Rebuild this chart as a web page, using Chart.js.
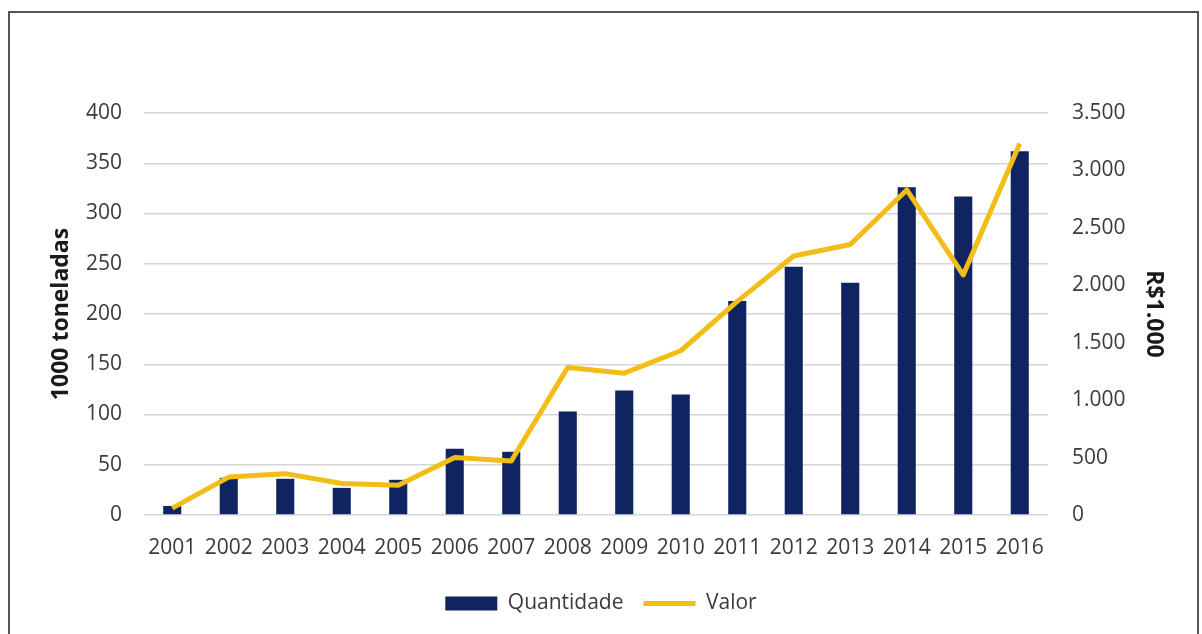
<!DOCTYPE html>
<html>
<head>
<meta charset="utf-8">
<script src="https://cdn.jsdelivr.net/npm/chart.js@4/dist/chart.umd.min.js"></script>
<style>
  html, body { margin: 0; padding: 0; background: #ffffff; width: 1202px; height: 634px; overflow: hidden; }
  #frame { position: absolute; left: 8px; top: 11px; width: 1191px; height: 640px; border: 2px solid #555555; box-sizing: border-box; }
  #wrap { position: absolute; left: 0; top: 0; width: 1202px; height: 634px; }
</style>
</head>
<body>
<div id="frame"></div>
<div id="wrap"><canvas id="c" width="1202" height="634"></canvas></div>
<script>
const categories = ['2001','2002','2003','2004','2005','2006','2007','2008','2009','2010','2011','2012','2013','2014','2015','2016'];
const quantidade = [9, 37, 36, 27, 35, 66, 63, 103, 124, 120, 213, 247, 231, 326, 317, 362];
const valor = [60, 330, 360, 275, 260, 500, 470, 1285, 1235, 1430, 1860, 2255, 2355, 2830, 2090, 3235];
const leftTitle = '1000 toneladas';
const rightTitle = 'R$1.000';
const seriesNames = ['Quantidade', 'Valor'];

const NAVY = '#0f2461';
const GOLD = '#f3bd17';
const TEXT = '#3a3a3a';
const FONT = "'Open Sans', 'Liberation Sans', sans-serif";

function fmt(v) { return String(v).replace(/\B(?=(\d{3})+(?!\d))/g, '.'); }

new Chart(document.getElementById('c'), {
  data: {
    labels: categories,
    datasets: [
      { type: 'line', label: seriesNames[1], data: valor, yAxisID: 'y1', borderColor: GOLD, backgroundColor: GOLD,
        borderWidth: 5, pointRadius: 0, tension: 0, order: 0, pointStyle: 'line', borderJoinStyle: 'round' },
      { type: 'bar', label: seriesNames[0], data: quantidade, yAxisID: 'y', backgroundColor: NAVY,
        borderWidth: 0, barPercentage: 0.32, categoryPercentage: 1, order: 1 }
    ]
  },
  options: {
    responsive: false,
    animation: false,
    devicePixelRatio: 1,
    layout: { padding: { left: 0, right: 0, top: 113, bottom: 10 } },
    plugins: {
      tooltip: { enabled: false },
      legend: {
        position: 'bottom',
        labels: {
          font: { family: FONT, size: 21 },
          color: TEXT,
          usePointStyle: true,
          pointStyleWidth: 52,
          boxHeight: 14,
          padding: 20,
          generateLabels: (chart) => {
            const ds = chart.data.datasets;
            return [
              { text: ds[1].label, fillStyle: NAVY, strokeStyle: NAVY, lineWidth: 0, pointStyle: 'rect', datasetIndex: 1, fontColor: TEXT },
              { text: ds[0].label, fillStyle: GOLD, strokeStyle: GOLD, lineWidth: 5, pointStyle: 'line', datasetIndex: 0, fontColor: TEXT }
            ];
          }
        }
      }
    },
    scales: {
      x: {
        grid: { display: false, drawTicks: false },
        border: { display: false },
        ticks: { font: { family: FONT, size: 21 }, color: TEXT, padding: 20, maxRotation: 0, autoSkip: false },
        afterFit: (s) => { s.height = 58; }
      },
      y: {
        position: 'left',
        min: 0, max: 400,
        ticks: { stepSize: 50, font: { family: FONT, size: 21 }, color: TEXT, padding: 22 },
        grid: { color: '#d6d6d6', lineWidth: 1.5, drawTicks: false },
        border: { display: false },
        title: { display: true, text: leftTitle, font: { family: FONT, size: 23, weight: 'bold' }, color: '#1a1a1a', padding: { top: 48, bottom: 0 } },
        afterFit: (s) => { s.width = 144; }
      },
      y1: {
        position: 'right',
        min: 0, max: 3500,
        ticks: { stepSize: 500, font: { family: FONT, size: 21 }, color: TEXT, padding: 24, callback: (v) => fmt(v) },
        grid: { display: false, drawTicks: false },
        border: { display: false },
        title: { display: true, text: rightTitle, font: { family: FONT, size: 23, weight: 'bold' }, color: '#1a1a1a', padding: { top: 35, bottom: 0 } },
        afterFit: (s) => { s.width = 154; }
      }
    }
  }
});
</script>
</body>
</html>
